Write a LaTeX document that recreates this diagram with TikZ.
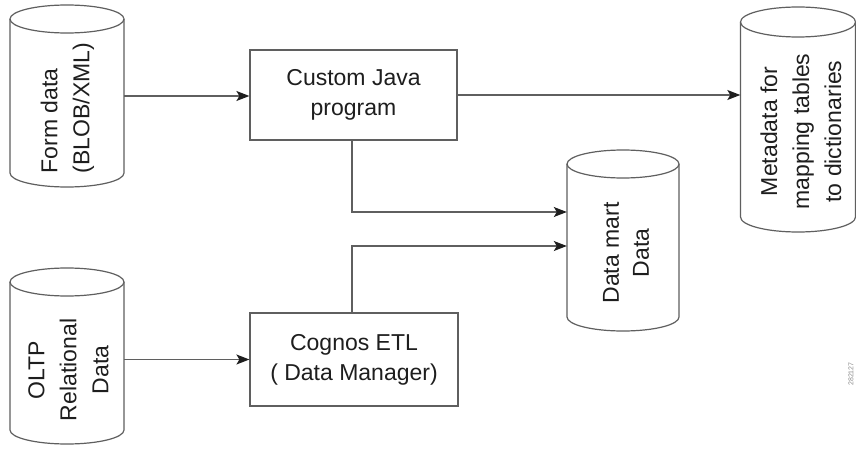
\documentclass[tikz,border=0pt]{standalone}
\usepackage{fontspec}
\setmainfont{Liberation Sans}
\usetikzlibrary{arrows.meta,calc}
\definecolor{ln}{RGB}{95,95,95}
\definecolor{tx}{RGB}{30,30,30}
\tikzset{
  cylline/.style={draw=ln, line width=1.2pt, fill=white},
  procbox/.style={draw=ln, line width=1.2pt, fill=white, inner sep=0pt, align=center,
                  font=\fontsize{23}{30}\selectfont, text=tx},
  vtext/.style={rotate=90, align=center, inner sep=0pt, font=\fontsize{23}{32}\selectfont, text=tx},
  arr/.style={draw=ln, line width=1.3pt, -{Stealth[length=13pt,width=10pt,inset=3pt,color=tx]}},
}
% name, cx, top ellipse centre Y, bottom ellipse centre Y, rx, ry
\newcommand\dbcyl[6]{%
  \draw[cylline] ({#2-#5},#3) -- ({#2-#5},#4)
     arc[start angle=180,end angle=360,x radius=#5pt,y radius=#6pt]
     -- ({#2+#5},#3)
     arc[start angle=0,end angle=180,x radius=#5pt,y radius=#6pt] -- cycle;
  \draw[cylline] ({#2-#5},#3)
     arc[start angle=180,end angle=360,x radius=#5pt,y radius=#6pt];
  \node[inner sep=0pt, minimum width={2*#5pt}, minimum height={(#3-#4)*1pt}] (#1) at (#2,{(#3+#4)/2}) {};
}
\begin{document}
\begin{tikzpicture}[x=1pt,y=1pt]
\useasboundingbox (0,0) rectangle (856,448);
\fill[white] (0,0) rectangle (856,448);

% databases
\dbcyl{fd}{67}{429}{275}{57}{14}
\dbcyl{ol}{67}{166}{18}{57}{14}
\dbcyl{dm}{623}{284}{131}{56}{14}
\dbcyl{md}{798}{426}{231}{57.5}{15}

\node[vtext, align=left] (fdt) at (67.5,340) {Form data\\(BLOB/XML)};
\node[vtext] (olt) at (68.5,78) {OLTP\\Relational\\Data};
\node[vtext, font=\fontsize{23}{30}\selectfont] (dmt) at (626,195) {Data mart\\Data};
\node[vtext] (mdt) at (801,316.5) {Metadata for\\mapping tables\\to dictionaries};

% processes
\node[procbox, minimum width=207pt, minimum height=90pt] (cj) at (353.5,353) {Custom Java\\program};
\node[procbox, minimum width=208pt, minimum height=93pt] (etl) at (354,88.5) {Cognos ETL\\( Data Manager)};

% connectors
\draw[arr] (fd.east) -- (fd.east -| cj.west);
\draw[arr] (cj.east) -- (cj.east -| md.west);
\draw[arr] ([xshift=-1.5pt]cj.south) |- ([yshift=28.5pt]dm.west);
\draw[arr] ([xshift=-2pt]etl.north) |- ([yshift=-5.5pt]dm.west);
\draw[arr] (ol.east |- etl.west) -- (etl.west);

% figure id
\node[rotate=90, inner sep=0pt, font=\fontsize{7}{8}\selectfont, text=black!45] (fid) at (851,74) {282127};
\end{tikzpicture}
\end{document}
